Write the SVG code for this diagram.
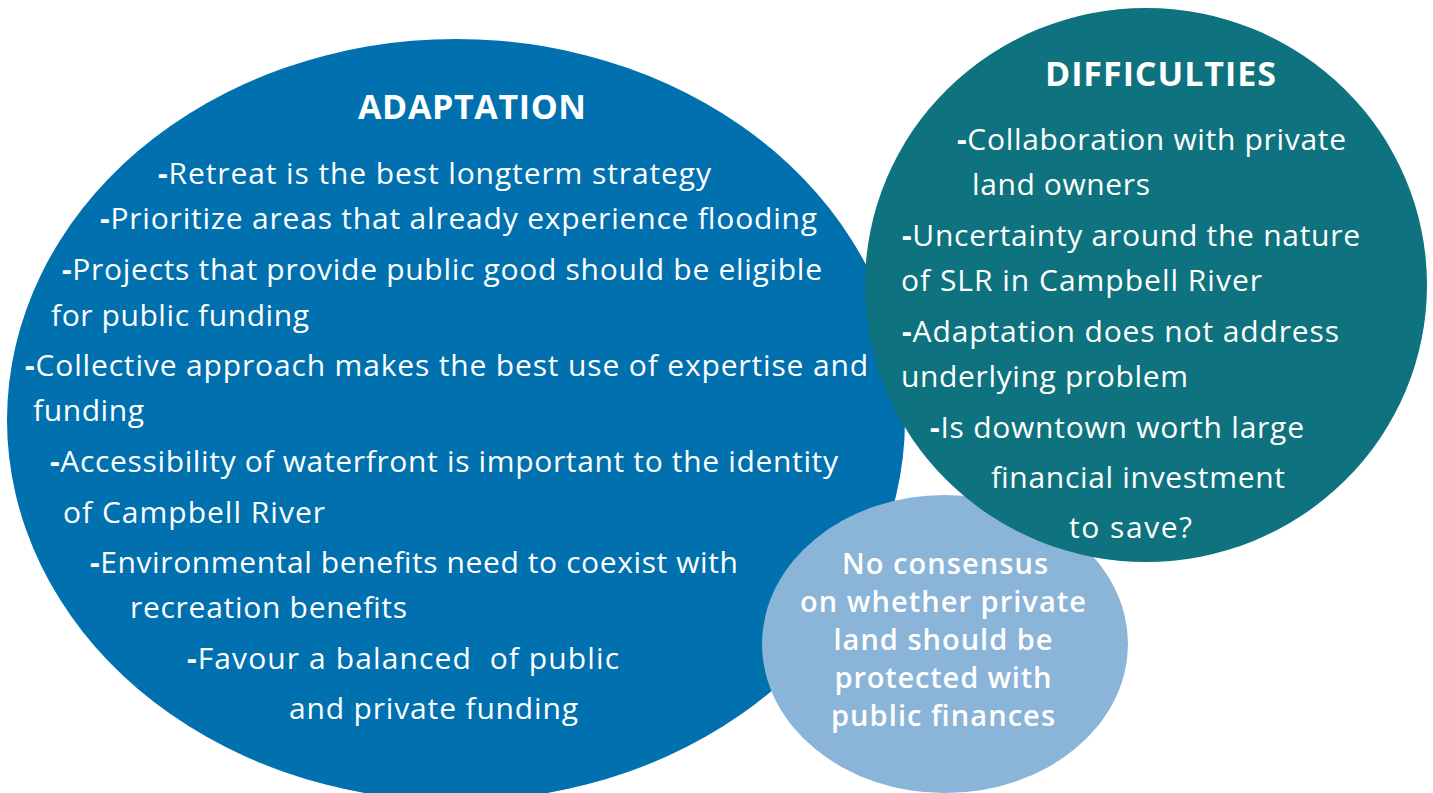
<svg xmlns="http://www.w3.org/2000/svg" width="1433" height="793" viewBox="0 0 1433 793">
<style>
.t{font-family:"Open Sans","Liberation Sans",sans-serif;font-size:30px;fill:#ffffff}
.h{font-family:"Open Sans","Liberation Sans",sans-serif;font-size:34px;font-weight:bold;fill:#ffffff}
.c{font-family:"Open Sans","Liberation Sans",sans-serif;font-size:29px;font-weight:600;fill:#ffffff;text-anchor:middle}
.b{font-weight:bold}
</style>
<rect width="1433" height="793" fill="#ffffff"/>
<g id="adaptation">
<ellipse cx="456" cy="420" rx="449" ry="381" fill="#0071AE"/>
<text class="h" x="358" y="119" textLength="228">ADAPTATION</text>
<text class="t" x="158" y="184" textLength="553"><tspan class="b">-</tspan>Retreat is the best longterm strategy</text>
<text class="t" x="100" y="229" textLength="717"><tspan class="b">-</tspan>Prioritize areas that already experience flooding</text>
<text class="t" x="62" y="280" textLength="760"><tspan class="b">-</tspan>Projects that provide public good should be eligible</text>
<text class="t" x="51" y="326" textLength="258">for public funding</text>
<text class="t" x="25" y="376" textLength="843"><tspan class="b">-</tspan>Collective approach makes the best use of expertise and</text>
<text class="t" x="33" y="421" textLength="111">funding</text>
<text class="t" x="50" y="472" textLength="788"><tspan class="b">-</tspan>Accessibility of waterfront is important to the identity</text>
<text class="t" x="63" y="523" textLength="262">of Campbell River</text>
<text class="t" x="90" y="573" textLength="648"><tspan class="b">-</tspan>Environmental benefits need to coexist with</text>
<text class="t" x="130" y="618" textLength="277">recreation benefits</text>
<text class="t" x="187" y="669" textLength="432" xml:space="preserve"><tspan class="b">-</tspan>Favour a balanced  of public</text>
<text class="t" x="289" y="719" textLength="289">and private funding</text>
</g>
<g id="consensus">
<ellipse cx="945" cy="644" rx="183" ry="149" fill="#8AB4D8"/>
<text class="c" x="945" y="574" textLength="206">No consensus</text>
<text class="c" x="943" y="612" textLength="286">on whether private</text>
<text class="c" x="943" y="650" textLength="219">land should be</text>
<text class="c" x="943" y="688" textLength="217">protected with</text>
<text class="c" x="943" y="726" textLength="224">public finances</text>
</g>
<g id="difficulties">
<ellipse cx="1146" cy="285" rx="281" ry="277" fill="#0E737E"/>
<text class="h" x="1045" y="86" textLength="231">DIFFICULTIES</text>
<text class="t" x="957" y="150" textLength="389"><tspan class="b">-</tspan>Collaboration with private</text>
<text class="t" x="972" y="195" textLength="178">land owners</text>
<text class="t" x="902" y="246" textLength="458"><tspan class="b">-</tspan>Uncertainty around the nature</text>
<text class="t" x="901" y="291" textLength="361">of SLR in Campbell River</text>
<text class="t" x="902" y="342" textLength="437"><tspan class="b">-</tspan>Adaptation does not address</text>
<text class="t" x="901" y="387" textLength="287">underlying problem</text>
<text class="t" x="930" y="438" textLength="374"><tspan class="b">-</tspan>Is downtown worth large</text>
<text class="t" x="991" y="488" textLength="294">financial investment</text>
<text class="t" x="1069" y="538" textLength="123">to save?</text>
</g>
<g id="connectors"></g>
</svg>
